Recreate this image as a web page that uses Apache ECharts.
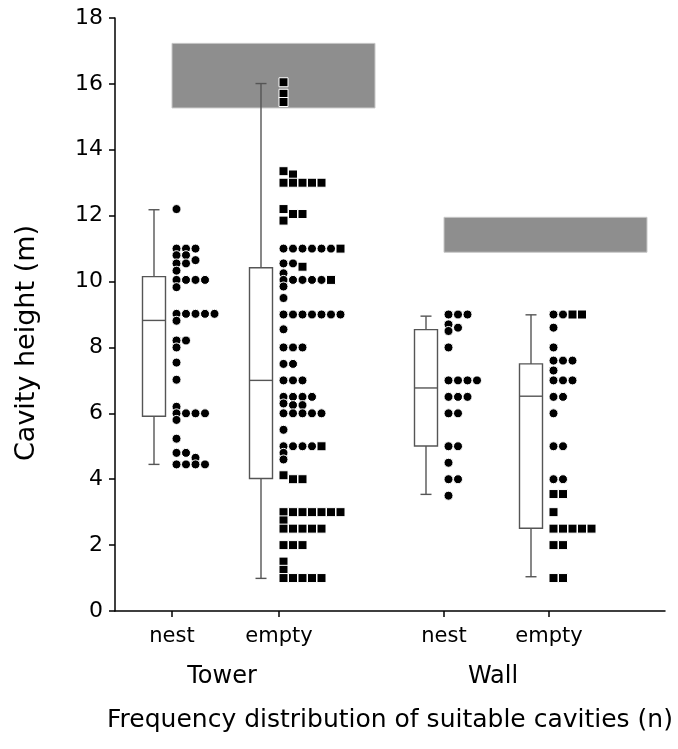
<!DOCTYPE html>
<html>
<head>
<meta charset="utf-8">
<script src="https://cdn.jsdelivr.net/npm/echarts@6/dist/echarts.min.js"></script>
<style>
  html, body { margin: 0; padding: 0; background: #fff; }
  #chart { width: 678px; height: 749px; }
</style>
</head>
<body>
<div id="chart"></div>
<script>
// groups and sub categories
var groups = ['Tower', 'Wall'];
var categories = ['nest', 'empty', 'nest', 'empty'];
var catPos = [5.7, 16.4, 32.9, 43.4];

// box stats per category: [min, q1, median, q3, max]
var boxStats = [
  [4.45, 5.91, 8.82, 10.15, 12.18],
  [0.99, 4.02, 7.0, 10.42, 16.01],
  [3.54, 5.01, 6.77, 8.54, 8.95],
  [1.04, 2.51, 6.52, 7.5, 8.99]
];

// cavity heights, circles and squares
var towerNestCircles = [12.2, 11.0, 11.0, 11.0, 10.8, 10.8, 10.65, 10.55, 10.55, 10.33,
  10.05, 10.05, 10.05, 10.05, 9.83, 9.02, 9.02, 9.02, 9.02, 9.02, 8.81, 8.21, 8.21, 8.0,
  7.54, 7.02, 6.2, 6.0, 6.0, 6.0, 6.0, 5.8, 5.23, 4.8, 4.8, 4.65, 4.45, 4.45, 4.45, 4.45];
var towerNestSquares = [];
var towerEmptyCircles = [11.0, 11.0, 11.0, 11.0, 11.0, 11.0, 10.55, 10.55, 10.25,
  10.05, 10.05, 10.05, 10.05, 10.05, 9.85, 9.5, 9.0, 9.0, 9.0, 9.0, 9.0, 9.0, 9.0, 8.55,
  8.0, 8.0, 8.0, 7.5, 7.5, 7.0, 7.0, 7.0, 6.5, 6.5, 6.5, 6.5, 6.3, 6.25, 6.25,
  6.0, 6.0, 6.0, 6.0, 6.0, 5.5, 5.0, 5.0, 5.0, 5.0, 4.8, 4.6];
var towerEmptySquares = [16.05, 15.7, 15.45, 13.35, 13.25, 13.0, 13.0, 13.0, 13.0, 13.0,
  12.2, 12.05, 12.05, 11.85, 11.0, 10.45, 10.05, 5.0, 4.12, 4.0, 4.0,
  3.0, 3.0, 3.0, 3.0, 3.0, 3.0, 3.0, 2.75, 2.5, 2.5, 2.5, 2.5, 2.5, 2.0, 2.0, 2.0,
  1.5, 1.25, 1.0, 1.0, 1.0, 1.0, 1.0];
var wallNestCircles = [9.0, 9.0, 9.0, 8.7, 8.6, 8.5, 8.0, 7.0, 7.0, 7.0, 7.0, 6.5, 6.5, 6.5,
  6.0, 6.0, 5.0, 5.0, 4.5, 4.0, 4.0, 3.5];
var wallNestSquares = [];
var wallEmptyCircles = [9.0, 9.0, 8.6, 8.0, 7.6, 7.6, 7.6, 7.3, 7.0, 7.0, 7.0, 6.5, 6.5,
  6.0, 5.0, 5.0, 4.0, 4.0];
var wallEmptySquares = [9.0, 9.0, 3.55, 3.55, 3.0, 2.5, 2.5, 2.5, 2.5, 2.5, 2.0, 2.0, 1.0, 1.0];

var circles = [towerNestCircles, towerEmptyCircles, wallNestCircles, wallEmptyCircles];
var squares = [towerNestSquares, towerEmptySquares, wallNestSquares, wallEmptySquares];

// shaded height ranges, one per group
var shadeRanges = [[15.27, 17.23], [10.89, 11.95]];

var yTicks = { min: 0, max: 18, interval: 2 };

var FONT = '"DejaVu Sans", Verdana, sans-serif';

// simple column stacking: a dot moves right while it collides with a close value
function layoutDots(circ, sq) {
  var pts = [];
  circ.forEach(function (v) { pts.push({ v: v, s: 0 }); });
  sq.forEach(function (v) { pts.push({ v: v, s: 1 }); });
  pts.sort(function (a, b) { return (b.v - a.v) || (a.s - b.s); });
  var cols = [];
  pts.forEach(function (p) {
    var c = 0;
    while (cols[c] && cols[c].some(function (u) { return Math.abs(u - p.v) < 0.19; })) c++;
    (cols[c] = cols[c] || []).push(p.v);
    p.col = c;
  });
  return pts;
}

var circleData = [], squareData = [];
for (var i = 0; i < categories.length; i++) {
  layoutDots(circles[i], squares[i]).forEach(function (p) {
    var pt = [catPos[i] + 0.45 + p.col * 0.95, p.v];
    if (p.s) squareData.push(pt); else circleData.push(pt);
  });
}

var boxData = boxStats.map(function (b, i) {
  return [catPos[i] - 1.8].concat(b);
});

var shadeData = shadeRanges.map(function (r, g) {
  var x0 = catPos[g * 2];
  return [x0, x0 + 20.3, r[0], r[1]];
});

var byId = echarts.init(document.getElementById('chart'));

var options = {
  animation: false,
  grid: { left: 115, right: 13, top: 18, bottom: 138, outerBoundsMode: 'none' },
  xAxis: {
    type: 'value', min: 0, max: 55,
    axisLine: { lineStyle: { color: '#000', width: 1.5 } },
    axisTick: { show: false },
    axisLabel: { show: false },
    splitLine: { show: false },
    name: 'Frequency distribution of suitable cavities (n)',
    nameLocation: 'middle',
    nameGap: 97,
    nameTextStyle: { fontSize: 25, color: '#000', fontFamily: FONT }
  },
  yAxis: {
    type: 'value', min: yTicks.min, max: yTicks.max, interval: yTicks.interval,
    axisLine: { show: true, lineStyle: { color: '#000', width: 1.5 } },
    axisTick: { show: true, length: 6, lineStyle: { color: '#000', width: 1.5 } },
    axisLabel: { fontSize: 22, color: '#000', margin: 12, fontFamily: FONT },
    splitLine: { show: false }
  },
  graphic: [{
    type: 'text',
    x: 27, y: 343,
    rotation: Math.PI / 2,
    style: {
      text: 'Cavity height (m)',
      font: '27px ' + FONT,
      fill: '#000',
      align: 'center',
      verticalAlign: 'middle'
    }
  }],
  series: [
    {
      type: 'custom',
      z: 1,
      data: shadeData,
      renderItem: function (params, api) {
        var p0 = api.coord([api.value(0), api.value(3)]);
        var p1 = api.coord([api.value(1), api.value(2)]);
        return {
          type: 'rect',
          shape: { x: p0[0], y: p0[1], width: p1[0] - p0[0], height: p1[1] - p0[1] },
          style: { fill: '#8e8e8e', stroke: '#c8c8c8', lineWidth: 1 }
        };
      }
    },
    {
      type: 'custom',
      z: 2,
      data: boxData,
      renderItem: function (params, api) {
        var x = api.value(0);
        var lo = api.coord([x, api.value(1)]);
        var q1 = api.coord([x, api.value(2)]);
        var md = api.coord([x, api.value(3)]);
        var q3 = api.coord([x, api.value(4)]);
        var hi = api.coord([x, api.value(5)]);
        var l = api.coord([x - 1.15, 0])[0], r = api.coord([x + 1.15, 0])[0];
        var cl = api.coord([x - 0.55, 0])[0], cr = api.coord([x + 0.55, 0])[0];
        var st = { stroke: '#555', lineWidth: 1.4, fill: null };
        return {
          type: 'group',
          children: [
            { type: 'line', shape: { x1: lo[0], y1: lo[1], x2: q1[0], y2: q1[1] }, style: st },
            { type: 'line', shape: { x1: q3[0], y1: q3[1], x2: hi[0], y2: hi[1] }, style: st },
            { type: 'line', shape: { x1: cl, y1: lo[1], x2: cr, y2: lo[1] }, style: st },
            { type: 'line', shape: { x1: cl, y1: hi[1], x2: cr, y2: hi[1] }, style: st },
            { type: 'rect', shape: { x: l, y: q3[1], width: r - l, height: q1[1] - q3[1] }, style: { stroke: '#555', lineWidth: 1.4, fill: '#fff' } },
            { type: 'line', shape: { x1: l, y1: md[1], x2: r, y2: md[1] }, style: st }
          ]
        };
      }
    },
    {
      type: 'custom',
      z: 2,
      clip: false,
      data: categories.map(function (c, i) { return [catPos[i], i]; }),
      renderItem: function (params, api) {
        var p = api.coord([api.value(0), 0]);
        return {
          type: 'group',
          children: [
            { type: 'line', shape: { x1: p[0], y1: p[1], x2: p[0], y2: p[1] + 6 }, style: { stroke: '#000', lineWidth: 1.5 } },
            { type: 'text', x: p[0], y: p[1] + 26, style: { text: categories[api.value(1)], font: '21px ' + FONT, fill: '#000', align: 'center', verticalAlign: 'middle' } }
          ]
        };
      }
    },
    {
      type: 'custom',
      z: 2,
      clip: false,
      data: groups.map(function (g, i) { return [(catPos[i * 2] + catPos[i * 2 + 1]) / 2 - 0.35, i]; }),
      renderItem: function (params, api) {
        var p = api.coord([api.value(0), 0]);
        return {
          type: 'text', x: p[0], y: p[1] + 66,
          style: { text: groups[api.value(1)], font: '24px ' + FONT, fill: '#000', align: 'center', verticalAlign: 'middle' }
        };
      }
    },
    {
      type: 'scatter',
      z: 3,
      symbol: 'circle',
      symbolSize: 9,
      itemStyle: { color: '#000', borderColor: '#fff', borderWidth: 1, opacity: 1 },
      data: circleData
    },
    {
      type: 'scatter',
      z: 3,
      symbol: 'rect',
      symbolSize: 9,
      itemStyle: { color: '#000', borderColor: '#fff', borderWidth: 1, opacity: 1 },
      data: squareData
    }
  ]
};

byId.setOption(options);
</script>
</body>
</html>
